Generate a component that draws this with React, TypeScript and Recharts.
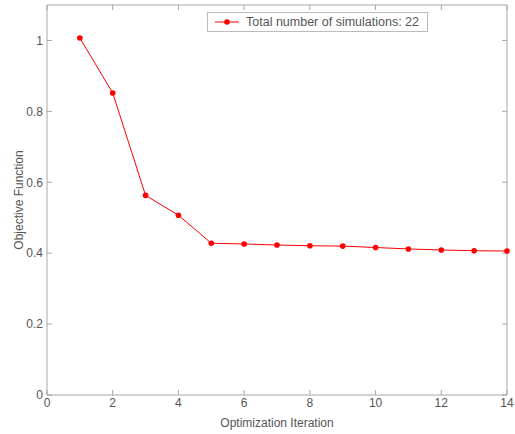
import React from "react"
import { LineChart, Line, XAxis, YAxis, Legend } from "recharts"

const iterations = [1, 2, 3, 4, 5, 6, 7, 8, 9, 10, 11, 12, 13, 14]
const objective = [1.007, 0.852, 0.563, 0.507, 0.428, 0.426, 0.423, 0.421, 0.42, 0.416, 0.412, 0.409, 0.407, 0.406]
const xTicks = [0, 2, 4, 6, 8, 10, 12, 14]
const yTicks = [0, 0.2, 0.4, 0.6, 0.8, 1]
const legendLabel = "Total number of simulations: 22"

const data = iterations.map((it, i) => ({ it, value: objective[i] }))

const axisColor = "#a8a8a8"
const textColor = "#555"
const font = "'Liberation Sans', Arial, sans-serif"

function Star(props: any) {
  const { cx, cy } = props
  if (cx == null || cy == null) return null
  return <circle cx={cx} cy={cy} r={2.8} fill="#ff0000" stroke="none" />
}

function LegendBox() {
  return (
    <div
      style={{
        border: "1px solid #bbb",
        background: "#fff",
        display: "flex",
        alignItems: "center",
        height: 18,
        padding: "0 8px 0 6px",
        fontFamily: font,
        fontSize: 12.5,
        color: textColor,
        whiteSpace: "nowrap",
      }}
    >
      <svg width={26} height={10} style={{ marginRight: 6 }}>
        <line x1={1} y1={5} x2={25} y2={5} stroke="#ff0000" strokeWidth={1} />
        <circle cx={13} cy={5} r={2.8} fill="#ff0000" />
      </svg>
      {legendLabel}
    </div>
  )
}

export default function App() {
  return (
    <div style={{ position: "absolute", left: 0, top: 0, background: "#fff" }}>
      <LineChart width={515} height={434} data={data} margin={{ top: 4, right: 7, left: 7, bottom: 9 }}>
        <XAxis
          dataKey="it"
          type="number"
          domain={[0, 14]}
          ticks={xTicks}
          stroke={axisColor}
          tickSize={-5}
          tickMargin={8}
          tick={{ fill: textColor, fontSize: 12, fontFamily: font }}
          height={30}
          label={{ value: "Optimization Iteration", position: "insideBottom", offset: -2, fill: textColor, fontSize: 12, fontFamily: font }}
        />
        <XAxis
          xAxisId="top"
          dataKey="it"
          orientation="top"
          type="number"
          domain={[0, 14]}
          ticks={xTicks}
          stroke={axisColor}
          tickSize={-5}
          tickFormatter={() => ""}
          height={1}
        />
        <YAxis
          type="number"
          domain={[0, 1.1]}
          ticks={yTicks}
          stroke={axisColor}
          tickSize={-5}
          tickMargin={9}
          tick={{ fill: textColor, fontSize: 12, fontFamily: font }}
          width={40}
          label={{ value: "Objective Function", angle: -90, position: "insideLeft", offset: 12, style: { textAnchor: "middle" }, fill: textColor, fontSize: 12, fontFamily: font }}
        />
        <YAxis
          yAxisId="right"
          orientation="right"
          type="number"
          domain={[0, 1.1]}
          ticks={yTicks}
          stroke={axisColor}
          tickSize={-5}
          tickFormatter={() => ""}
          width={1}
        />
        <Legend
          layout="vertical"
          align="center"
          verticalAlign="middle"
          content={() => <LegendBox />}
          wrapperStyle={{ position: "absolute", top: 12, left: 207, width: "auto" }}
        />
        {/* invisible copy so the top/right frame axes get drawn */}
        <Line
          xAxisId="top"
          yAxisId="right"
          type="linear"
          dataKey="value"
          stroke="none"
          dot={false}
          activeDot={false}
          legendType="none"
          isAnimationActive={false}
        />
        <Line
          type="linear"
          dataKey="value"
          stroke="#ff0000"
          strokeWidth={1}
          dot={<Star />}
          activeDot={false}
          isAnimationActive={false}
        />
      </LineChart>
    </div>
  )
}
